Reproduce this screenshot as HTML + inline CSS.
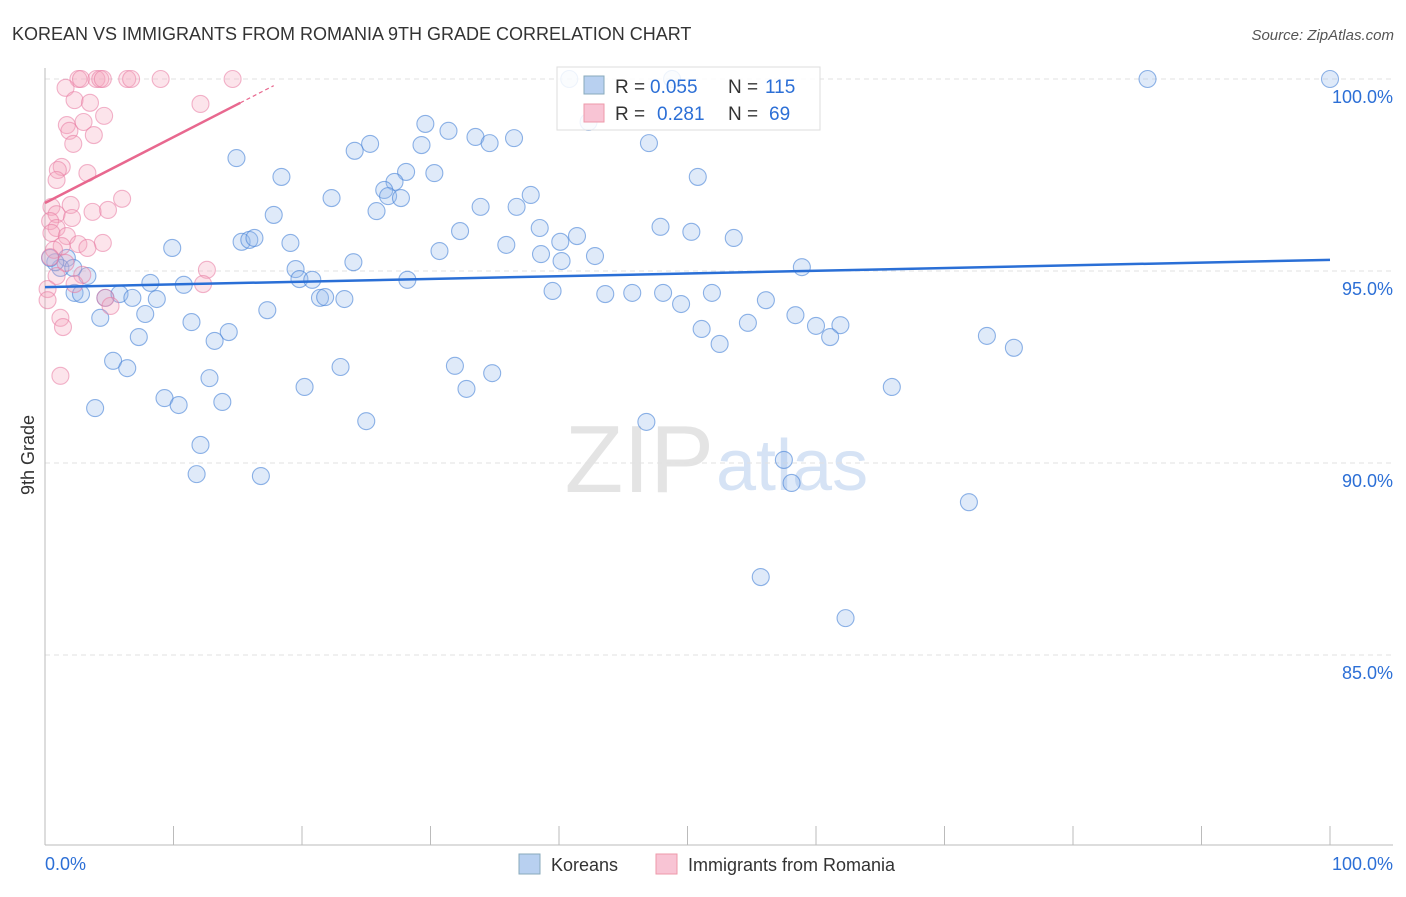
<!DOCTYPE html>
<html><head><meta charset="utf-8"><style>
body{margin:0;background:#fff;font-family:"Liberation Sans",sans-serif;}
svg text{font-family:"Liberation Sans",sans-serif;}
</style></head><body>
<svg id="chart" width="1406" height="892">
<text x="12" y="40" font-size="18" fill="#333">KOREAN VS IMMIGRANTS FROM ROMANIA 9TH GRADE CORRELATION CHART</text>
<text x="1394" y="40" font-size="15" fill="#555" font-style="italic" text-anchor="end">Source: ZipAtlas.com</text>
<text x="34" y="455" font-size="18" fill="#333" transform="rotate(-90 34 455)" text-anchor="middle">9th Grade</text>
<text x="714" y="492" font-size="96" fill="#e4e4e4" text-anchor="end" font-family="Liberation Serif">ZIP</text>
<text x="716" y="490" font-size="72" fill="#d6e3f5">atlas</text>
<g id="grid"></g><g id="axes"></g><g id="pts"></g><g id="lines"></g>
<g>
<rect x="557" y="67" width="263" height="63" fill="rgba(255,255,255,0.85)" stroke="#ddd"/>
<rect x="584" y="76" width="20" height="18" fill="#b8d0f0" stroke="#8ab"/>
<rect x="584" y="104" width="20" height="18" fill="#f8c4d4" stroke="#e9a"/>
<text x="615" y="93" font-size="19" fill="#333">R =</text>
<text x="650" y="93" font-size="19" fill="#2c6fd6">0.055</text>
<text x="728" y="93" font-size="19" fill="#333">N =</text>
<text x="765" y="93" font-size="19" fill="#2c6fd6">115</text>
<text x="615" y="120" font-size="19" fill="#333">R =</text>
<text x="657" y="120" font-size="19" fill="#2c6fd6">0.281</text>
<text x="728" y="120" font-size="19" fill="#333">N =</text>
<text x="769" y="120" font-size="19" fill="#2c6fd6">69</text>
</g>
<g>
<rect x="519" y="854" width="21" height="20" fill="#b8d0f0" stroke="#8ab"/>
<text x="551" y="871" font-size="18" fill="#333">Koreans</text>
<rect x="656" y="854" width="21" height="20" fill="#f8c4d4" stroke="#e9a"/>
<text x="688" y="871" font-size="18" fill="#333">Immigrants from Romania</text>
</g>
<text x="45" y="870" font-size="18" fill="#2c6fd6">0.0%</text>
<text x="1393" y="870" font-size="18" fill="#2c6fd6" text-anchor="end">100.0%</text>
</svg>
<script>
const yTicks=[100,95,90,85];
const yTickLabels=["100.0%","95.0%","90.0%","85.0%"];
const koreanX=[100,85.8,40.8,48.8,42.3,29.6,31.4,33.5,36.5,34.6,29.3,25.3,24.1,47.0,14.9,18.4,28.1,30.3,27.2,26.4,26.7,27.7,22.3,37.8,33.9,36.7,25.8,50.8,17.8,38.5,32.3,47.9,50.3,53.6,41.4,40.1,35.9,30.7,38.6,40.2,42.8,9.9,15.3,15.9,16.3,19.1,24.0,19.5,19.8,20.8,28.2,58.9,1.7,1.2,3.3,8.2,10.8,2.3,2.8,4.7,5.8,6.8,8.7,21.4,21.8,23.3,39.5,43.6,45.7,48.1,49.5,51.9,56.1,4.3,7.8,17.3,11.4,14.3,13.2,7.3,51.1,54.7,58.4,60.0,61.9,61.1,52.5,73.3,75.4,5.3,6.4,23.0,31.9,34.8,32.8,12.8,20.2,65.9,9.3,10.4,13.8,3.9,25.0,46.8,12.1,11.8,16.8,57.5,58.1,71.9,55.7,62.3,2.2,0.8,0.4];
const koreanY=[100,100,100,100,98.88,98.83,98.65,98.49,98.46,98.33,98.28,98.31,98.13,98.33,97.94,97.45,97.58,97.55,97.32,97.11,96.95,96.90,96.90,96.98,96.67,96.67,96.56,97.45,96.46,96.12,96.04,96.15,96.02,95.86,95.91,95.76,95.68,95.52,95.44,95.26,95.39,95.6,95.76,95.81,95.86,95.73,95.23,95.05,94.79,94.77,94.77,95.10,95.34,95.08,94.87,94.69,94.64,94.43,94.40,94.30,94.40,94.30,94.27,94.30,94.32,94.27,94.48,94.40,94.43,94.43,94.14,94.43,94.24,93.78,93.88,93.98,93.67,93.41,93.18,93.28,93.49,93.65,93.85,93.57,93.59,93.28,93.10,93.31,93.0,92.66,92.47,92.5,92.53,92.34,91.93,92.21,91.98,91.98,91.69,91.51,91.59,91.43,91.09,91.07,90.47,89.71,89.66,90.08,89.48,88.98,87.03,85.96,95.08,95.23,95.34];
const romaniaX=[2.6,2.8,4.0,4.3,4.5,6.4,6.7,9.0,14.6,1.6,2.3,3.5,12.1,4.6,3.0,1.7,1.9,3.8,2.2,1.3,1.0,3.3,0.9,6.0,2.0,0.5,4.9,3.7,0.9,2.1,0.4,0.9,0.5,1.7,4.5,2.6,3.3,1.3,0.7,0.4,1.6,12.6,2.9,0.9,2.3,12.3,0.2,4.7,5.1,0.2,1.2,1.4,1.2];
const romaniaY=[100,100,100,100,100,100,100,100,100,99.77,99.45,99.38,99.35,99.04,98.88,98.80,98.65,98.54,98.31,97.71,97.63,97.55,97.37,96.88,96.72,96.67,96.59,96.54,96.48,96.38,96.30,96.12,95.99,95.91,95.73,95.70,95.60,95.65,95.55,95.36,95.21,95.03,94.9,94.87,94.66,94.66,94.53,94.30,94.09,94.24,93.78,93.54,92.27];
const koreanTrend=[94.58,95.29];
const romaniaTrend=[96.77,99.38]; // at x=0 and x=15.2
const NS="http://www.w3.org/2000/svg";
const X=v=>45+v*12.85, Y=v=>79+(100-v)*38.4;
function mk(t,a,p){const e=document.createElementNS(NS,t);for(const k in a)e.setAttribute(k,a[k]);p.appendChild(e);return e;}
const grid=document.getElementById('grid'),axes=document.getElementById('axes'),pts=document.getElementById('pts'),lines=document.getElementById('lines');
yTicks.forEach((t,i)=>{
 const g=mk('line',{x1:45,x2:1393,y1:Y(t),y2:Y(t),stroke:'#e2e2e2','stroke-dasharray':'5,4'},grid);
 
 
 const tx=mk('text',{x:1393,y:Y(t)+24,'font-size':18,fill:'#2c6fd6','text-anchor':'end'},axes);
 tx.textContent=yTickLabels[i];
 
 
});
mk('line',{x1:45,x2:45,y1:68,y2:845,stroke:'#bbb'},axes);
mk('line',{x1:45,x2:1393,y1:845,y2:845,stroke:'#bbb'},axes);
for(let i=0;i<=10;i++){const l=mk('line',{x1:X(i*10),x2:X(i*10),y1:826,y2:845,stroke:'#bbb'},axes);
 
 }
koreanX.forEach((x,i)=>{const c=mk('circle',{cx:X(x),cy:Y(koreanY[i]),r:8.5,fill:'rgba(150,185,235,0.3)',stroke:'rgba(70,130,215,0.6)','stroke-width':1.1},pts);
 
 });
romaniaX.forEach((x,i)=>{const c=mk('circle',{cx:X(x),cy:Y(romaniaY[i]),r:8.5,fill:'rgba(245,165,190,0.3)',stroke:'rgba(232,120,160,0.55)','stroke-width':1.1},pts);
 
 });
const kl=mk('line',{x1:X(0),y1:Y(koreanTrend[0]),x2:X(100),y2:Y(koreanTrend[1]),stroke:'#2a6fd6','stroke-width':2.5},lines);


const rl=mk('line',{x1:X(0),y1:Y(romaniaTrend[0]),x2:X(15.2),y2:Y(romaniaTrend[1]),stroke:'#e8688f','stroke-width':2.5},lines);


const slope=(romaniaTrend[1]-romaniaTrend[0])/15.2;
const rd=mk('line',{x1:X(15.2),y1:Y(romaniaTrend[1]),x2:X(17.8),y2:Y(romaniaTrend[0]+slope*17.8),stroke:'#e8688f','stroke-width':1.2,'stroke-dasharray':'4,3'},lines);


</script>
</body></html>
